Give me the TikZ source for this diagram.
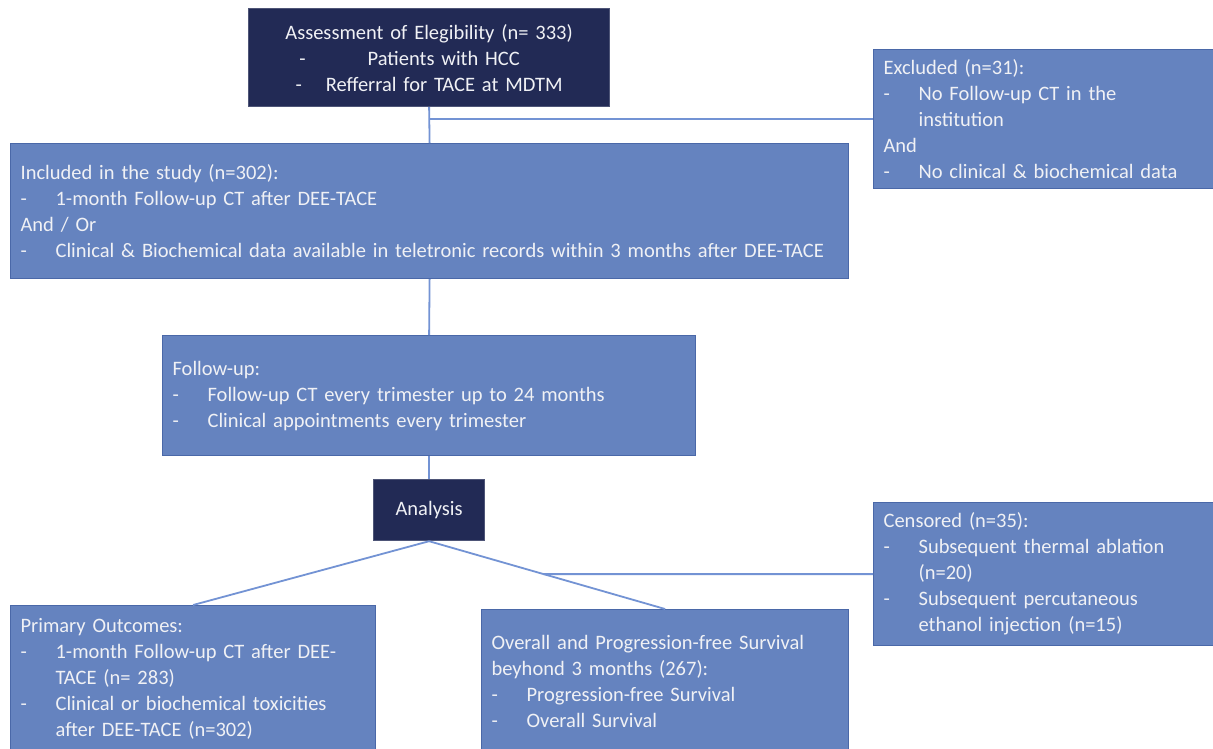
\documentclass[tikz,border=0pt]{standalone}
\usepackage{fontspec}
\setmainfont{Carlito}
\definecolor{boxfill}{HTML}{6583BF}
\definecolor{boxline}{HTML}{4A68A8}
\definecolor{navy}{HTML}{222A55}
\definecolor{conn}{HTML}{7393D4}
\definecolor{txt}{HTML}{F0F1F5}
\newcommand\itm[1]{\makebox[35pt][l]{-}#1}
\newcommand\cnt[1]{\hspace*{35pt}#1}
\begin{document}
\begin{tikzpicture}[x=1pt,y=-1pt,
  box/.style={rectangle, draw=boxline, fill=boxfill, line width=1.2pt, anchor=north west,
    inner xsep=10pt, inner ysep=0pt, align=left, text=txt,
    font=\fontsize{20.5}{26}\selectfont},
  darkbox/.style={box, fill=navy, draw=navy!80!white, align=center},
  link/.style={draw=conn, line width=1.8pt}]
\useasboundingbox (0,0) rectangle (1213,748);
\fill[white] (0,0) rectangle (1213,748);

\node[darkbox, text width=341pt, minimum height=98pt] (top) at (248,8)
  {Assessment of Elegibility (n= 333)\\
   -\hspace{62pt}Patients with HCC\hspace{39pt}\null\\
   -\hspace{24pt}Refferral for TACE at MDTM};

\node[box, text width=323pt, minimum height=139pt] (exc) at (873,49)
  {Excluded (n=31):\\
   \itm{No Follow-up CT in the}\\
   \cnt{institution}\\
   And\\
   \itm{No clinical \& biochemical data}};

\node[box, text width=818pt, minimum height=135pt] (inc) at (10,143)
  {Included in the study (n=302):\\
   \itm{1-month Follow-up CT after DEE-TACE}\\
   And / Or\\
   \itm{Clinical \& Biochemical data available in teletronic records within 3 months after DEE-TACE}};

\node[box, text width=513pt, minimum height=120pt] (fu) at (162,335)
  {Follow-up:\\
   \itm{Follow-up CT every trimester up to 24 months}\\
   \itm{Clinical appointments every trimester}};

\node[darkbox, text width=91pt, minimum height=61pt] (ana) at (373,479) {Analysis};

\node[box, text width=323pt, minimum height=143pt] (cen) at (873,502)
  {Censored (n=35):\\
   \itm{Subsequent thermal ablation}\\
   \cnt{(n=20)}\\
   \itm{Subsequent percutaneous}\\
   \cnt{ethanol injection (n=15)}};

\node[box, text width=345pt, minimum height=147pt] (pri) at (10,605)
  {Primary Outcomes:\\
   \itm{1-month Follow-up CT after DEE-}\\
   \cnt{TACE (n= 283)}\\
   \itm{Clinical or biochemical toxicities}\\
   \cnt{after DEE-TACE (n=302)}};

\node[box, text width=347pt, minimum height=143pt] (ov) at (481,609)
  {Overall and Progression-free Survival\\
   beyhond 3 months (267):\\
   \itm{Progression-free Survival}\\
   \itm{Overall Survival}};

\draw[link] (top.south) -- (inc.north);
\draw[link] (top.south |- exc.west) -- (exc.west);
\draw[link] (inc.south) -- (fu.north);
\draw[link] (fu.south) -- (ana.north);
\draw[link] (ana.south) -- (pri.north);
\draw[link] (ana.south) -- (ov.north);
\coordinate (h) at (cen.west -| ana.south);
\coordinate (jc) at (intersection of ana.south--ov.north and cen.west--h);
\draw[link] (jc) -- (cen.west);
\end{tikzpicture}
\end{document}
